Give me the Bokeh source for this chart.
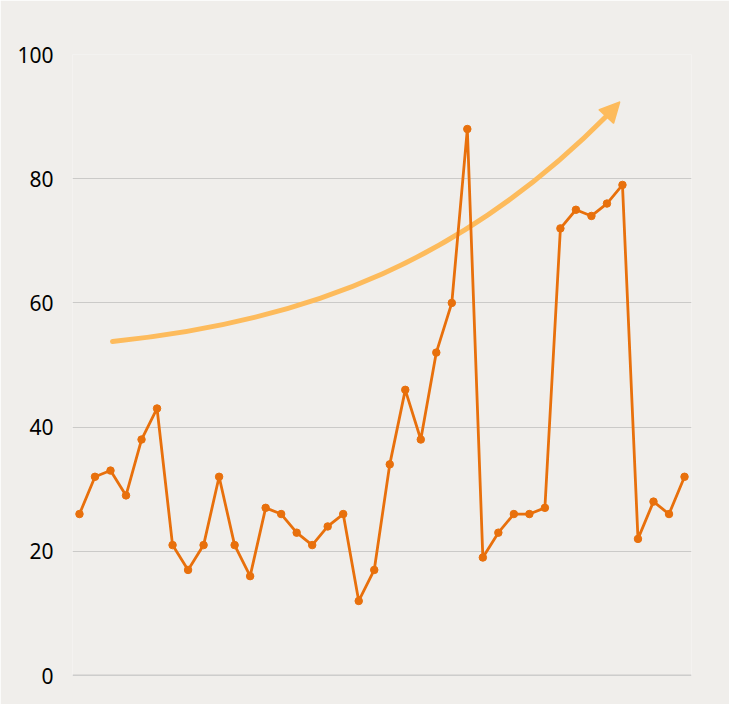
from bokeh.plotting import figure
from bokeh.models import Span, Arrow, NormalHead, Range1d, FixedTicker
from bokeh.embed import file_html
from bokeh.resources import INLINE

values = [26, 32, 33, 29, 38, 43, 21, 17, 21, 32,
          21, 16, 27, 26, 23, 21, 24, 26, 12, 17,
          34, 46, 38, 52, 60, 88, 19, 23, 26, 26,
          27, 72, 75, 74, 76, 79, 22, 28, 26, 32]
idx = list(range(len(values)))
y_ticks = [0, 20, 40, 60, 80, 100]

# trend arrow (cubic curve) in data coords: start, two controls, end, tip
arrow_start = (2.13, 53.8)
arrow_c0 = (15.03, 57.0)
arrow_c1 = (25.03, 67.5)
arrow_end = (34.06, 90.3)
arrow_tip = (34.8, 92.3)

BG = "#F0EEEB"
LINE = "#E8700C"
ARROW = "#FDBB5C"

p = figure(width=729, height=704, output_backend="svg", toolbar_location=None,
           x_range=Range1d(-0.45, 39.45), y_range=Range1d(0, 100),
           min_border_left=72, min_border_right=38, min_border_top=54, min_border_bottom=29)
p.background_fill_color = BG
p.border_fill_color = BG
p.outline_line_color = None

p.xaxis.visible = False
p.xgrid.visible = False
p.ygrid.grid_line_color = "#CBCAC8"
p.ygrid.grid_line_width = 1
p.yaxis.ticker = FixedTicker(ticks=y_ticks)
p.yaxis.axis_line_color = None
p.yaxis.major_tick_line_color = None
p.yaxis.minor_tick_line_color = None
p.yaxis.major_tick_out = 0
p.yaxis.major_tick_in = 0
p.yaxis.major_label_standoff = 19
p.yaxis.major_label_text_font = "Noto Sans"
p.yaxis.major_label_text_font_size = "21px"
p.yaxis.major_label_text_color = "#000000"

p.add_layout(Span(location=0, dimension="width", line_color="#A8A8A8", line_width=1.5))

p.bezier(x0=[arrow_start[0]], y0=[arrow_start[1]], x1=[arrow_end[0]], y1=[arrow_end[1]],
         cx0=[arrow_c0[0]], cy0=[arrow_c0[1]], cx1=[arrow_c1[0]], cy1=[arrow_c1[1]],
         line_color=ARROW, line_width=5, line_cap="round")
p.add_layout(Arrow(end=NormalHead(size=19, fill_color=ARROW, line_color=ARROW, line_width=2,
                                  line_join="round"),
                   x_start=arrow_end[0], y_start=arrow_end[1], x_end=arrow_tip[0], y_end=arrow_tip[1],
                   line_color=ARROW, line_width=5))

p.line(idx, values, line_color=LINE, line_width=2.8)
p.scatter(idx, values, size=7.5, fill_color=LINE, line_color=LINE)

open("out.html", "w").write(file_html(p, INLINE))
